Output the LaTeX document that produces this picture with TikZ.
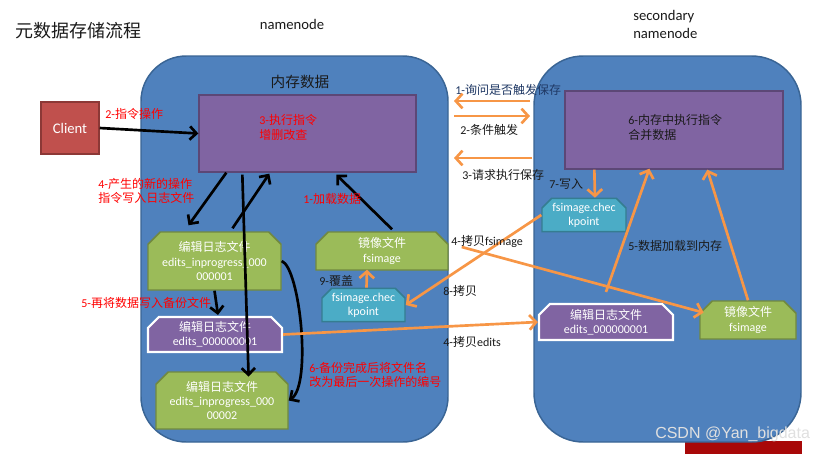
\documentclass[tikz,border=0pt]{standalone}
\usepackage{fontspec}
\setmainfont{Carlito}
\newfontfamily\cjk{Noto Sans CJK SC}
\newfontfamily\wmfont{Liberation Sans}
\usetikzlibrary{arrows.meta,shapes.misc,calc}
\definecolor{bluefill}{HTML}{4F81BD}
\definecolor{blueedge}{HTML}{3A6595}
\definecolor{purplefill}{HTML}{8064A2}
\definecolor{purpleedge}{HTML}{5C4776}
\definecolor{greenfill}{HTML}{9BBB59}
\definecolor{greenedge}{HTML}{71893F}
\definecolor{cyanfill}{HTML}{4BACC6}
\definecolor{cyanedge}{HTML}{357D91}
\definecolor{clientfill}{HTML}{C0504D}
\definecolor{clientedge}{HTML}{8C3836}
\definecolor{orangeline}{HTML}{F79646}
\definecolor{redtext}{HTML}{FF0000}
\definecolor{navytext}{HTML}{1F3864}
\definecolor{darktext}{HTML}{1A1A1A}
\definecolor{artifact}{HTML}{A80808}
\begin{document}
\begin{tikzpicture}[x=0.75pt,y=-0.75pt,
  sz/.style 2 args={minimum width=#1*0.75pt,minimum height=#2*0.75pt},
  bigbox/.style={draw=blueedge,fill=bluefill,line width=1.1pt,inner sep=0pt},
  cmdbox/.style={draw=purpleedge,fill=purplefill,line width=1pt,inner sep=0pt},
  boxfont/.style={font=\fontsize{9}{10.8}\selectfont,text=white,align=center},
  chamf/.style={chamfered rectangle,chamfered rectangle corners={north west,north east},chamfered rectangle xsep=#1,inner sep=0pt},
  greenbox/.style={chamf=6pt,draw=greenedge,fill=greenfill,line width=1.1pt,boxfont},
  editbox/.style={chamf=5pt,draw=white,fill=purplefill,line width=1.6pt,boxfont},
  ckbox/.style={chamf=4pt,draw=cyanedge,fill=cyanfill,line width=1.1pt,boxfont},
  clientbox/.style={draw=clientedge,fill=clientfill,line width=1.1pt,text=white,font=\fontsize{11}{13}\selectfont},
  redlabel/.style={text=redtext,font=\fontsize{9}{10.8}\selectfont,align=left,inner sep=0pt,anchor=west},
  darklabel/.style={text=darktext,font=\fontsize{9}{10.8}\selectfont,align=left,inner sep=0pt,anchor=west},
  blackarrow/.style={line width=2pt,draw=black,-{Straight Barb[length=5pt,width=10pt]}},
  orangearrow/.style={line width=2pt,draw=orangeline,-{Straight Barb[length=5pt,width=11pt]}}
]
\useasboundingbox (0,0) rectangle (826,454);
\fill[white] (0,0) rectangle (826,454);
% scan artifact at bottom right
\fill[artifact] (685,441) rectangle (802,454);

% big containers
\node[bigbox,sz={307}{386},rounded corners=34pt] (nn) at (294.5,249) {};
\node[bigbox,sz={267}{386},rounded corners=37pt] (snn) at (667.5,249) {};

% titles
\node[text=darktext,font=\cjk\fontsize{13.5}{16}\selectfont,anchor=west,inner sep=0pt] (title) at (15,31) {元数据存储流程};
\node[text=darktext,font=\fontsize{11}{13}\selectfont,inner sep=0pt] (nnlabel) at (292,24) {namenode};
\node[text=darktext,font=\fontsize{11}{13.5}\selectfont,align=left,anchor=west,inner sep=0pt] (snnlabel) at (633,24) {secondary\\namenode};
\node[text=darktext,font=\cjk\fontsize{11}{13}\selectfont,inner sep=0pt] (mem) at (300,82) {内存数据};

% boxes
\node[clientbox,sz={58}{52}] (cl) at (70,128) {Client};
\node[cmdbox,sz={217}{77}] (pL) at (307.5,133.5) {};
\node[cmdbox,sz={218}{78}] (pR) at (674,130) {};
\node[greenbox,sz={133}{58}] (g1) at (214.5,261) {{\cjk 编辑日志文件}\\edits\_inprogress\_000\\000001};
\node[greenbox,sz={132}{57}] (g2) at (222,400.5) {{\cjk 编辑日志文件}\\edits\_inprogress\_000\\00002};
\node[greenbox,sz={132}{38}] (fsL) at (382,251) {{\cjk 镜像文件}\\fsimage};
\node[greenbox,sz={96}{38}] (fsR) at (748,320) {{\cjk 镜像文件}\\fsimage};
\node[ckbox,sz={83}{30}] (cL) at (363.5,305) {fsimage.chec\\kpoint};
\node[ckbox,sz={84}{30}] (cR) at (584,215) {fsimage.chec\\kpoint};
\node[editbox,sz={134}{35}] (eL) at (215,334.5) {{\cjk 编辑日志文件}\\edits\_000000001};
\node[editbox,sz={134}{36}] (eR) at (606,322) {{\cjk 编辑日志文件}\\edits\_000000001};

% black connectors
\draw[blackarrow] (cl.east) -- (pL.west);
\draw[blackarrow] ($(pL.south west)+(28,0)$) -- ($(g1.north)+(-26,-6)$);
\draw[blackarrow] ($(g1.north)+(18,-3)$) -- ($(pL.south west)+(71,1)$);
\draw[blackarrow] ($(pL.south west)+(44,2)$) -- ($(g2.north west)+(87,-1)$);
\draw[blackarrow] (g1.south) -- ($(eL.north)+(3,-1)$);
\draw[blackarrow] (g1.east) .. controls (300,268) and (312,385) .. (g2.east);
\draw[blackarrow] ($(fsL.north)+(10,-2)$) -- ($(pL.south west)+(138,2)$);

% orange connectors
\coordinate (q1a) at (530,101); \coordinate (q1b) at (454,101);
\coordinate (q2a) at (454,116); \coordinate (q2b) at (530,116);
\coordinate (q3a) at (532,158); \coordinate (q3b) at (454,158);
\draw[orangearrow] (q1a) -- (q1b);
\draw[orangearrow] (q2a) -- (q2b);
\draw[orangearrow] (q3a) -- (q3b);
\draw[orangearrow] ($(pR.south west)+(30,0)$) -- ($(cR.north)+(11,0)$);
\draw[orangearrow] (cR.west) -- (cL.east);
\draw[orangearrow] ($(cL.north)+(3,0)$) -- ($(fsL.south)+(-15,-1)$);
\draw[orangearrow] ($(fsL.east)+(13,-4)$) -- ($(fsR.north west)+(-2,6)$);
\draw[orangearrow] (eL.east) -- (eR.west);
\draw[orangearrow] ($(eR.north)+(0,-11)$) -- ($(pR.south west)+(85,-1)$);
\draw[orangearrow] (fsR.north) -- ($(pR.south west)+(143,0)$);

% labels
\node[redlabel] (l2) at (105,114) {2-{\cjk 指令操作}};
\node[redlabel] (l3) at (259,127.5) {3-{\cjk 执行指令}\\{\cjk 增删改查}};
\node[redlabel] (l4) at (98,191) {4-{\cjk 产生的新的操作}\\{\cjk 指令写入日志文件}};
\node[redlabel] (l1) at (303,199) {1-{\cjk 加载数据}};
\node[redlabel] (l5) at (81,303) {5-{\cjk 再将数据写入备份文件}};
\node[redlabel] (l6) at (309,375) {6-{\cjk 备份完成后将文件名}\\{\cjk 改为最后一次操作的编号}};
\node[darklabel,text=navytext] (s1) at (455,90) {1-{\cjk 询问是否触发保存}};
\node[darklabel] (s2) at (460,130) {2-{\cjk 条件触发}};
\node[darklabel] (s3) at (462,175) {3-{\cjk 请求执行保存}};
\node[darklabel] (s6) at (628,127.5) {6-{\cjk 内存中执行指令}\\{\cjk 合并数据}};
\node[darklabel] (s7) at (549,184) {7-{\cjk 写入}};
\node[darklabel] (s4a) at (451,241) {4-{\cjk 拷贝}fsimage};
\node[darklabel] (s5) at (628,246) {5-{\cjk 数据加载到内存}};
\node[darklabel] (s8) at (443,291) {8-{\cjk 拷贝}};
\node[darklabel] (s4b) at (443,342) {4-{\cjk 拷贝}edits};
\node[darklabel] (s9) at (319,281) {9-{\cjk 覆盖}};

% watermark
\node[text=white!88!black,font=\wmfont\fontsize{12}{14}\selectfont,anchor=west,inner sep=0pt] (wm) at (655,434) {CSDN @Yan\_bigdata};
\end{tikzpicture}
\end{document}
